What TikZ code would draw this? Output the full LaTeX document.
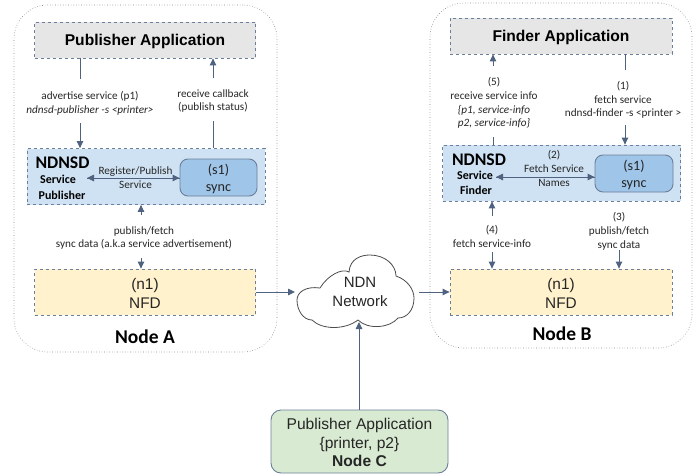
\documentclass[tikz,border=0pt]{standalone}
\usepackage{fontspec}
\setmainfont{Carlito}
\newfontfamily\arialf{Liberation Sans}
\usetikzlibrary{arrows.meta,positioning}
\definecolor{linec}{HTML}{4F6280}
\definecolor{dashc}{HTML}{6C7F9A}
\definecolor{appc}{HTML}{E6E6E6}
\definecolor{bluec}{HTML}{CFE2F3}
\definecolor{syncc}{HTML}{9FC5E8}
\definecolor{nfdc}{HTML}{FFF2CC}
\definecolor{greenc}{HTML}{D9EAD3}
\newcommand{\pushdown}[1]{\rule{0pt}{#1}}
\tikzset{
  outer/.style={draw=black!50,dotted,line width=.6pt,rounded corners=34pt,inner sep=0pt},
  dbox/.style={draw=dashc,dashed,line width=.8pt,inner sep=0pt},
  syncbox/.style={draw=dashc,fill=syncc,line width=.9pt,rounded corners=8pt,inner sep=0pt,align=center,font=\fontsize{14.2}{16.5}\selectfont,text=black!85},
  conn/.style={draw=linec,line width=.9pt},
  arr/.style={conn,-{Triangle[length=7pt,width=6.5pt]}},
  lab/.style={inner sep=0pt,align=center,font=\fontsize{11.2}{13.8}\selectfont,text=black!85},
  sideb/.style={inner sep=0pt,font=\bfseries\fontsize{12}{14}\selectfont},
  ndnsd/.style={inner sep=0pt,font=\bfseries\fontsize{17.7}{20}\selectfont},
  nametit/.style={inner sep=0pt,font=\bfseries\fontsize{19.5}{22}\selectfont},
  apptit/.style={dbox,fill=appc,font=\arialf\bfseries\fontsize{15.6}{18}\selectfont},
  nfdbox/.style={dbox,fill=nfdc,font=\arialf\fontsize{15.4}{18.7}\selectfont,align=center,text=black!85},
}
\begin{document}
\begin{tikzpicture}[x=1pt,y=-1pt]
\useasboundingbox (0,0) rectangle (699,474);
% outer node containers
\node[outer,minimum width=263pt,minimum height=347pt] (outerA) at (145.5,178.5) {};
\node[outer,minimum width=262pt,minimum height=345pt] (outerB) at (561,175.5) {};
% Node A boxes
\node[apptit,minimum width=221pt,minimum height=36pt] (pubapp) at (145,40) {\pushdown{14pt}Publisher Application};
\node[dbox,fill=bluec,minimum width=238pt,minimum height=56pt] (ndA) at (146,176.5) {};
\node[syncbox,minimum width=77pt,minimum height=37pt] (syncA) at (218.5,177.5) {\pushdown{13.5pt}(s1)\\sync};
\node[nfdbox,minimum width=221pt,minimum height=46pt] (nfdA) at (145,292) {\pushdown{14pt}(n1)\\NFD};
% Node B boxes
\node[apptit,minimum width=222pt,minimum height=36pt] (finapp) at (561,36) {\pushdown{14pt}Finder Application};
\node[dbox,fill=bluec,minimum width=238pt,minimum height=56pt] (ndB) at (561.5,173) {};
\node[syncbox,minimum width=78pt,minimum height=37pt] (syncB) at (634,173.5) {\pushdown{13.5pt}(s1)\\sync};
\node[nfdbox,minimum width=222pt,minimum height=46pt] (nfdB) at (561,292) {\pushdown{14pt}(n1)\\NFD};
% Node C
\node[draw=dashc,fill=greenc,line width=.9pt,rounded corners=10pt,minimum width=177pt,minimum height=63pt,inner sep=0pt,align=center,text=black!85,font=\arialf\fontsize{15.6}{18.6}\selectfont] (nodeC) at (359.5,441.5) {\pushdown{13.5pt}Publisher Application\\\{printer, p2\}\\\textbf{Node C}};
% Cloud
\draw[draw=black!70,fill=white,line width=.8pt]
 (320,288) .. controls (328,275) and (342,268) .. (349,272)
 .. controls (350,258) and (362,255) .. (370,255)
 .. controls (385,255) and (396,265) .. (396,276)
 .. controls (408,280) and (414,290) .. (414,298)
 .. controls (414,310) and (407,318) .. (398,318)
 .. controls (390,328) and (368,330) .. (358,320)
 .. controls (345,330) and (322,330) .. (312,320)
 .. controls (303,320) and (297,310) .. (297,300)
 .. controls (297,292) and (306,286) .. (320,288) -- cycle;
\node[inner sep=0pt,align=center,text=black!85,font=\arialf\fontsize{15}{18.4}\selectfont] (cloud) at (360,292) {NDN\\Network};
\coordinate (cloudL) at (295,292);
\coordinate (cloudR) at (419,292);
\coordinate (cloudB) at (359,322);
% free ends beside the labels
\coordinate (a1t) at (80,79);   \coordinate (a1b) at (80,123);
\coordinate (a2t) at (213,78);  \coordinate (a2b) at (213,121);
\coordinate (a3t) at (141,215); \coordinate (a3b) at (141,258);
\coordinate (b1t) at (625,70);  \coordinate (b1b) at (625,125);
\coordinate (b2t) at (493,66);  \coordinate (b2b) at (493,137);
\coordinate (b3t) at (492,216); \coordinate (b3b) at (492,252);
\coordinate (b4b) at (619,250);
\coordinate (regL) at (87,178);
\coordinate (fetL) at (496,177);
% Connectors A
\draw[conn] (pubapp.south -| a1t) -- (a1t);
\draw[arr] (a1b) -- (ndA.north -| a1b);
\draw[conn] (ndA.north -| a2b) -- (a2b);
\draw[arr] (a2t) -- (pubapp.south -| a2t);
\draw[arr] (a3t) -- (ndA.south -| a3t);
\draw[arr] (a3b) -- (nfdA.north -| a3b);
\draw[arr] (syncA.west |- regL) -- (regL);
\draw[arr] (regL) -- (syncA.west |- regL);
% Connectors B
\draw[conn] (finapp.south -| b1t) -- (b1t);
\draw[arr] (b1b) -- (ndB.north -| b1b);
\draw[conn] (ndB.north -| b2b) -- (b2b);
\draw[arr] (b2t) -- (finapp.south -| b2t);
\draw[arr] (b3t) -- (ndB.south -| b3t);
\draw[arr] (b3b) -- (nfdB.north -| b3b);
\draw[arr] (b4b) -- (nfdB.north -| b4b);
\draw[arr] (syncB.west |- fetL) -- (fetL);
\draw[arr] (fetL) -- (syncB.west |- fetL);
% Network connectors
\draw[arr] (nfdA.east) -- (cloudL);
\draw[arr] (cloudR) -- (nfdB.west);
\draw[arr] (nodeC.north -| cloudB) -- (cloudB);
% Labels A
\node[lab] (la1) at (90,103) {advertise service (p1)\\\textit{ndnsd-publisher -s <printer>}};
\node[lab] (la2) at (213,101) {receive callback\\(publish status)};
\node[lab] (la3) at (144,238) {publish/fetch\\sync data (a.k.a service advertisement)};
\node[lab] (la4) at (135.5,177.5) {Register/Publish\\Service};
\node[ndnsd] (ndnA) at (62.5,163) {NDNSD};
\node[sideb] (svcA) at (58,179) {Service};
\node[sideb] (pubA) at (62,195) {Publisher};
\node[nametit] (nameA) at (145,337) {Node A};
% Labels B
\node[lab] (lb1) at (494,103) {(5)\\receive service info\\\textit{\{p1, service-info}\\\textit{p2, service-info\}}};
\node[lab] (lb2) at (623,100) {(1)\\fetch service\\ndnsd-finder -s <printer >};
\node[lab] (lb3) at (554,168.5) {(2)\\Fetch Service\\Names};
\node[ndnsd] (ndnB) at (479,160) {NDNSD};
\node[sideb] (svcB) at (475,175) {Service};
\node[sideb] (finB) at (476,190) {Finder};
\node[lab] (lb4) at (492,236.5) {(4)\\fetch service-info};
\node[lab] (lb5) at (619,231.5) {(3)\\publish/fetch\\sync data};
\node[nametit] (nameB) at (562,334) {Node B};
\end{tikzpicture}
\end{document}
